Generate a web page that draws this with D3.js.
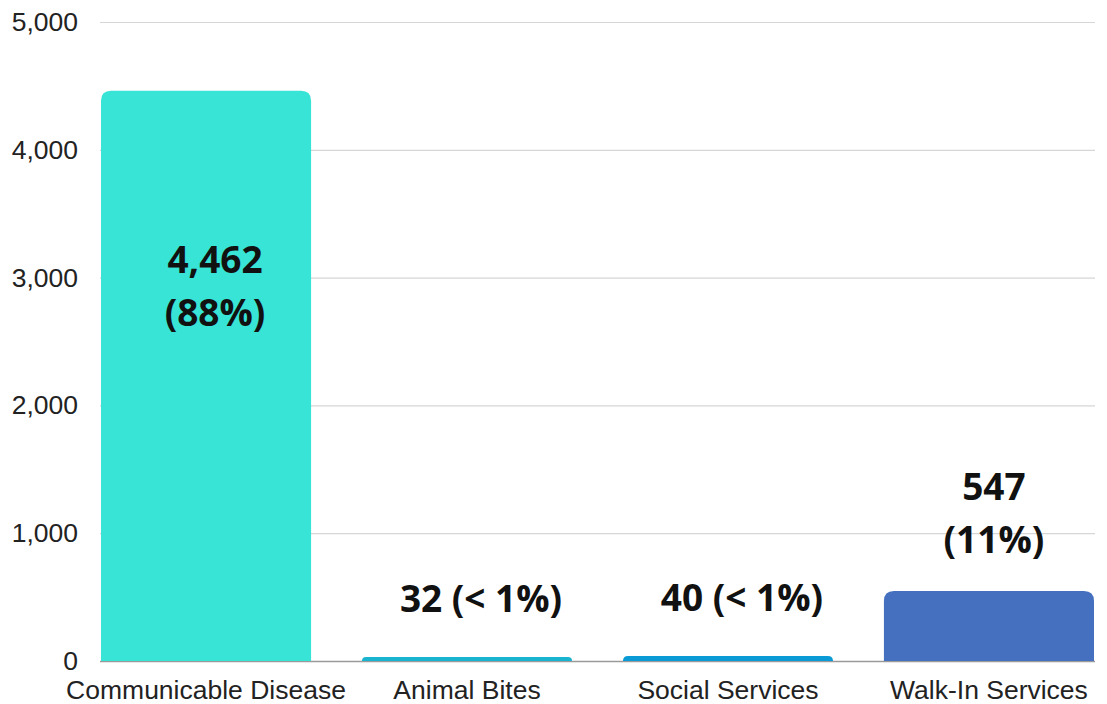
<!DOCTYPE html>
<html>
<head>
<meta charset="utf-8">
<script src="https://cdn.jsdelivr.net/npm/d3@7"></script>
<style>
  body { margin: 0; background: #fff; }
  svg { display: block; }
</style>
</head>
<body>
<svg id="chart"></svg>
<script>
const categories = ['Communicable Disease', 'Animal Bites', 'Social Services', 'Walk-In Services']
const counts = [4462, 32, 40, 547]
const percents = ['(88%)', '(< 1%)', '(< 1%)', '(11%)']
const colors = ['#38e4d5', '#18b4d0', '#0a9bd6', '#4570c0']
const yTicks = [0, 1000, 2000, 3000, 4000, 5000]

let width = 1107,
height = 704

let svg = d3.select('#chart')
.attr('width', width)
.attr('height', height)

let x = d3.scaleBand()
.domain(categories)
.range([101, 1094])
.paddingInner(0.195)
.paddingOuter(0)

let y = d3.scaleLinear()
.domain([0, 5000])
.range([661, 22])

let fmt = d3.format(',')

// gridlines + tick labels
let yAxis = svg.append('g')
.attr('transform', 'translate(100,0)')
.call(d3.axisLeft(y).tickValues(yTicks).tickFormat(fmt).tickSize(-995).tickPadding(22))

yAxis.select('.domain').remove()
yAxis.selectAll('.tick line')
.attr('stroke', d => d === 0 ? '#9a9a9a' : '#d6d6d6')
.attr('stroke-width', d => d === 0 ? 1.5 : 1.2)
yAxis.selectAll('.tick text')
.attr('font-family', '"Liberation Sans", Arial, sans-serif')
.attr('font-size', 26.5)
.attr('fill', '#222')

// bars with rounded top corners
let barPath = (d, i) => {
    let x0 = x(categories[i]), w = x.bandwidth()
    let top = y(d), bot = y(0)
    let r = Math.min(10, bot - top)
    return `M${x0},${bot} V${top + r} Q${x0},${top} ${x0 + r},${top} H${x0 + w - r} Q${x0 + w},${top} ${x0 + w},${top + r} V${bot} Z`
}

svg.append('g').selectAll('path')
.data(counts)
.enter().append('path')
.attr('d', barPath)
.attr('fill', (d, i) => colors[i])

// category labels
svg.append('g').selectAll('text')
.data(categories)
.enter().append('text')
.attr('x', d => x(d) + x.bandwidth() / 2)
.attr('y', 699)
.attr('text-anchor', 'middle')
.attr('font-family', '"Liberation Sans", Arial, sans-serif')
.attr('font-size', 26.5)
.attr('fill', '#222')
.text(d => d)

// value labels
let maxVal = d3.max(counts)
let labels = svg.append('g')
.attr('font-family', '"Open Sans", "Noto Sans", sans-serif')
.attr('font-weight', 700)
.attr('font-size', 37)
.attr('fill', '#111')
.attr('text-anchor', 'middle')

counts.forEach((v, i) => {
    let cx = x(categories[i]) + x.bandwidth() / 2
    if (v === maxVal) {
        // inside the tall bar, two lines
        let base = y(v * 0.655)
        labels.append('text').attr('x', cx + 9).attr('y', base - 14).text(fmt(v))
        labels.append('text').attr('x', cx + 9).attr('y', base + 39).text(percents[i])
    } else if (v > 100) {
        let base = y(v) - 38
        labels.append('text').attr('x', cx + 5).attr('y', base - 53).text(fmt(v))
        labels.append('text').attr('x', cx + 5).attr('y', base).text(percents[i])
    } else {
        labels.append('text').attr('x', cx + 14).attr('y', y(v) - 45).text(fmt(v) + ' ' + percents[i])
    }
})
</script>
</body>
</html>
